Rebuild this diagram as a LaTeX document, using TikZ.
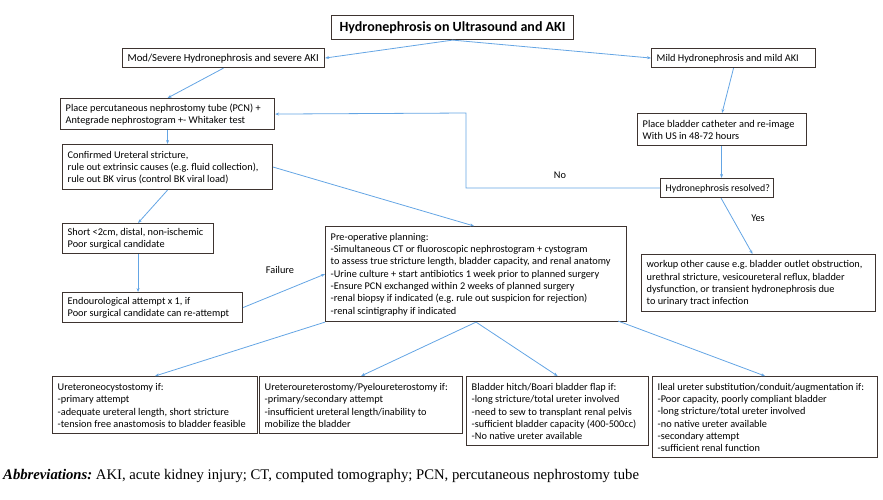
\documentclass[tikz,border=0pt]{standalone}
\usepackage{fontspec}
\setmainfont{Carlito}
\newfontfamily\abbrfont{Liberation Serif}
\usetikzlibrary{arrows.meta,calc}
\definecolor{boxline}{RGB}{62,52,48}
\definecolor{arrowblue}{RGB}{100,165,228}
\frenchspacing
\tikzset{
  boxshape/.style={draw=boxline, line width=1.1pt, inner sep=0pt, anchor=north west},
  boxtext/.style={inner sep=0pt, align=left, anchor=west, font=\fontsize{10.3}{12.3}\selectfont},
  conn/.style={draw=arrowblue, line width=0.8pt, -{Stealth[length=4pt,width=3pt]}},
  lbl/.style={font=\fontsize{10.3}{12.3}\selectfont}}
\newcommand\tbox[7][]{%
  \node[boxshape, minimum width=#5pt, minimum height=#6pt] (#2) at (#3,#4) {};
  \node[boxtext,#1] (#2t) at ($(#2.west)+(5.5,0.5)$) {#7};}
\begin{document}
\begin{tikzpicture}[x=1pt,y=-1pt]
\useasboundingbox (0,0) rectangle (883,499);

\node[boxshape, minimum width=242pt, minimum height=24pt, font=\fontsize{14}{16}\bfseries] (title) at (331,15) {Hydronephrosis on Ultrasound and AKI};
\tbox[font=\fontsize{10.7}{12.3}\selectfont]{mod}{122}{48}{202}{19}{Mod/Severe Hydronephrosis and severe AKI}
\tbox{mild}{651}{48}{164}{19}{Mild Hydronephrosis and mild AKI}
\tbox{pcn}{60}{98}{214}{31}{Place percutaneous nephrostomy tube (PCN) +\\Antegrade nephrostogram +- Whitaker test}
\tbox{cath}{637}{113}{169}{32}{Place bladder catheter and re-image\\With US in 48-72 hours}
\tbox{conf}{62}{144}{210}{45}{Confirmed Ureteral stricture,\\rule out extrinsic causes (e.g. fluid collection),\\rule out BK virus (control BK viral load)}
\tbox[font=\fontsize{9.9}{12.3}\selectfont]{res}{660}{178}{113}{19}{Hydronephrosis resolved?}
\tbox{short}{62}{223}{151}{30}{Short {<}2cm, distal, non-ischemic\\Poor surgical candidate}
\tbox{work}{641}{254}{234}{57}{workup other cause e.g. bladder outlet obstruction,\\urethral stricture, vesicoureteral reflux, bladder\\dysfunction, or transient hydronephrosis due\\to urinary tract infection}
\tbox{endo}{62}{292}{180}{30}{Endourological attempt x 1, if\\Poor surgical candidate can re-attempt}
\tbox{pre}{325}{226}{301}{95}{Pre-operative planning:\\-Simultaneous CT or fluoroscopic nephrostogram + cystogram\\to assess true stricture length, bladder capacity, and renal anatomy\\-Urine culture + start antibiotics 1 week prior to planned surgery\\-Ensure PCN exchanged within 2 weeks of planned surgery\\-renal biopsy if indicated (e.g. rule out suspicion for rejection)\\-renal scintigraphy if indicated}
\tbox{u1}{52}{376}{205}{57}{Ureteroneocystostomy if:\\-primary attempt\\-adequate ureteral length, short stricture\\-tension free anastomosis to bladder feasible}
\tbox{u2}{259}{376}{203}{57}{Ureteroureterostomy/Pyeloureterostomy if:\\-primary/secondary attempt\\-insufficient ureteral length/inability to\\mobilize the bladder}
\tbox{u3}{466}{376}{182}{69}{Bladder hitch/Boari bladder flap if:\\-long stricture/total ureter involved\\-need to sew to transplant renal pelvis\\-sufficient bladder capacity (400-500cc)\\-No native ureter available}
\tbox{u4}{652}{376}{225}{81}{Ileal ureter substitution/conduit/augmentation if:\\-Poor capacity, poorly compliant bladder\\-long stricture/total ureter involved\\-no native ureter available\\-secondary attempt\\-sufficient renal function}

\coordinate (c1) at (466,113);
\coordinate (p4) at (618,321);

\draw[conn] (title.south) -- (mod.east);
\draw[conn] (title.south) -- (mild.west);
\draw[conn] (mod.south) -- (pcn.north);
\draw[conn] (mild.south) -- (cath.north);
\draw[conn] ($(cath.south)+(-0.5,0)$) -- ($(cath.south |- res.north)+(-0.5,0)$);
\draw[conn] ($(res.south)+(4,0)$) -- ($(work.north)+(-6,0)$);
\draw[conn] (res.west) -| (c1) -- (pcn.east);
\draw[conn] (pcn.south) -- (conf.north);
\draw[conn] (conf.south) -- (short.north);
\draw[conn] (short.south) -- (short.south |- endo.north);
\draw[conn] (endo.east) -- (pre.west);
\draw[conn] (conf.east) -- ($(pre.north)+(-2,0)$);
\draw[conn] (pre.south west) -- (u1.north);
\draw[conn] (pre.south) -- (u2.north);
\draw[conn] (pre.south) -- (u3.north);
\draw[conn] (p4) -- (u4.north);

\node[lbl] (no) at (560,175) {No};
\node[lbl] (yes) at (758,218) {Yes};
\node[lbl] (fail) at (280,270) {Failure};

\node[anchor=west, inner sep=0pt, font=\abbrfont\fontsize{14.7}{16}\selectfont] (abbr) at (3,476) {\textbf{\textit{Abbreviations:}} AKI, acute kidney injury; CT, computed tomography; PCN, percutaneous nephrostomy tube};
\end{tikzpicture}
\end{document}
